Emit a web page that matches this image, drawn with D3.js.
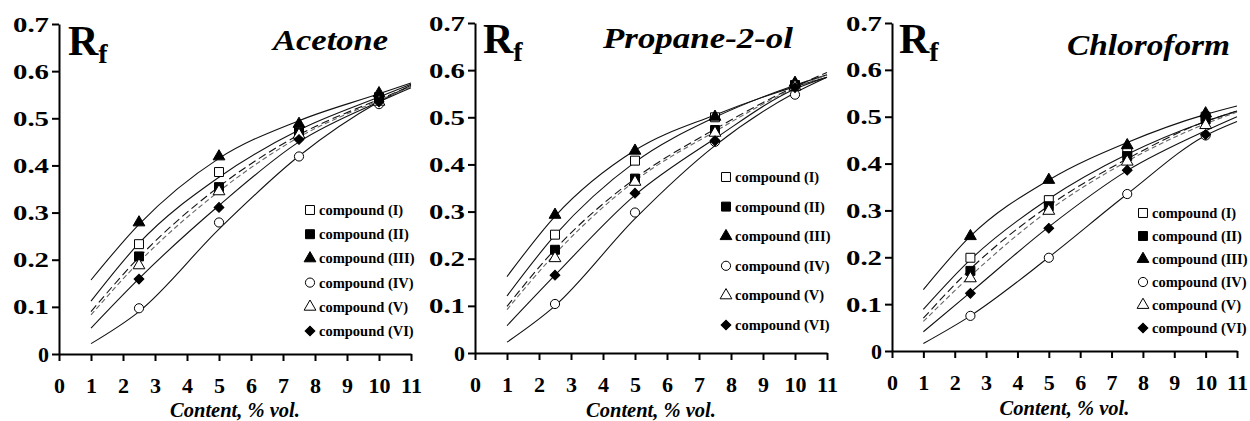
<!DOCTYPE html>
<html>
<head>
<meta charset="utf-8">
<script src="https://cdn.jsdelivr.net/npm/d3@7"></script>
<style>
  body { margin: 0; background: #fff; }
  svg { display: block; font-family: 'Liberation Serif', 'Times New Roman', serif; }
</style>
</head>
<body>
<svg></svg>
<script>
// x positions of measured points and of the drawn trend curves
const contentX = [2.5, 5, 7.5, 10]
const curveX = [1, 2.5, 5, 7.5, 10, 11]
const compounds = ['compound (I)', 'compound (II)', 'compound (III)', 'compound (IV)', 'compound (V)', 'compound (VI)']
const xTicks = [0, 1, 2, 3, 4, 5, 6, 7, 8, 9, 10, 11]
const yTicks = [0, 0.1, 0.2, 0.3, 0.4, 0.5, 0.6, 0.7]
const solvents = ['Acetone', 'Propane-2-ol', 'Chloroform']

// Rf values, one row per compound (I..VI)
const acetonePoints = [
  [0.233, 0.386, 0.475, 0.545],
  [0.207, 0.354, 0.470, 0.540],
  [0.279, 0.419, 0.488, 0.553],
  [0.097, 0.279, 0.419, 0.530],
  [0.188, 0.345, 0.465, 0.535],
  [0.159, 0.311, 0.455, 0.535]
]
const acetoneCurves = [
  [0.112, 0.235, 0.375, 0.475, 0.545, 0.572],
  [0.090, 0.205, 0.355, 0.465, 0.540, 0.568],
  [0.157, 0.275, 0.415, 0.495, 0.552, 0.575],
  [0.022, 0.090, 0.265, 0.420, 0.535, 0.570],
  [0.083, 0.195, 0.345, 0.460, 0.538, 0.567],
  [0.055, 0.160, 0.315, 0.450, 0.535, 0.565]
]
const propanolPoints = [
  [0.251, 0.408, 0.500, 0.568],
  [0.219, 0.370, 0.473, 0.568],
  [0.293, 0.429, 0.501, 0.573],
  [0.104, 0.298, 0.448, 0.548],
  [0.201, 0.363, 0.467, 0.565],
  [0.165, 0.339, 0.450, 0.563]
]
const propanolCurves = [
  [0.121, 0.250, 0.405, 0.500, 0.568, 0.590],
  [0.099, 0.220, 0.370, 0.475, 0.565, 0.595],
  [0.162, 0.290, 0.430, 0.505, 0.565, 0.585],
  [0.023, 0.100, 0.285, 0.440, 0.552, 0.585],
  [0.092, 0.210, 0.365, 0.470, 0.562, 0.590],
  [0.058, 0.165, 0.335, 0.455, 0.560, 0.585]
]
const chloroformPoints = [
  [0.199, 0.322, 0.425, 0.500],
  [0.171, 0.309, 0.416, 0.494],
  [0.245, 0.365, 0.439, 0.507],
  [0.075, 0.199, 0.335, 0.460],
  [0.155, 0.299, 0.404, 0.482],
  [0.123, 0.262, 0.386, 0.462]
]
const chloroformCurves = [
  [0.089, 0.195, 0.325, 0.420, 0.490, 0.512],
  [0.070, 0.175, 0.310, 0.410, 0.490, 0.512],
  [0.131, 0.245, 0.365, 0.445, 0.505, 0.523],
  [0.016, 0.075, 0.200, 0.335, 0.460, 0.490],
  [0.063, 0.160, 0.300, 0.405, 0.485, 0.510],
  [0.041, 0.125, 0.265, 0.385, 0.470, 0.500]
]

const width = 1250
const height = 421
let svg = d3.select('svg').attr('width', width).attr('height', height)

// placement of each panel
const panels = [
  { title: solvents[0], points: acetonePoints, curves: acetoneCurves,
    x0: 59, x1: 411, y0: 354, y1: 24,
    titleX: 273, titleY: 50, titleLen: 115, rfX: 68, rfY: 55,
    legX: 310, legY: 210, legStep: 24.2 },
  { title: solvents[1], points: propanolPoints, curves: propanolCurves,
    x0: 475, x1: 827, y0: 353, y1: 23,
    titleX: 603, titleY: 48, titleLen: 190, rfX: 483, rfY: 53,
    legX: 726, legY: 177, legStep: 29.6 },
  { title: solvents[2], points: chloroformPoints, curves: chloroformCurves,
    x0: 892, x1: 1237, y0: 351, y1: 23,
    titleX: 1067, titleY: 55, titleLen: 163, rfX: 899, rfY: 53,
    legX: 1143, legY: 213, legStep: 23 }
]

// marker styles for compounds I..VI
const markers = [
  { type: d3.symbolSquare, size: 80, fill: '#fff', rotate: 0 },
  { type: d3.symbolSquare, size: 80, fill: '#000', rotate: 0 },
  { type: d3.symbolTriangle, size: 60, fill: '#000', rotate: 0 },
  { type: d3.symbolCircle, size: 66, fill: '#fff', rotate: 0 },
  { type: d3.symbolTriangle, size: 60, fill: '#fff', rotate: 0 },
  { type: d3.symbolSquare, size: 48, fill: '#000', rotate: 45 }
]
// line styles for trend curves
const lineStyles = [
  { color: '#111', dash: null },
  { color: '#111', dash: '8,4' },
  { color: '#111', dash: null },
  { color: '#111', dash: null },
  { color: '#666', dash: '5,3' },
  { color: '#111', dash: null }
]

function drawMarker (g, x, y, i) {
  const m = markers[i]
  g.append('path')
    .attr('d', d3.symbol().type(m.type).size(m.size)())
    .attr('transform', `translate(${x},${y}) rotate(${m.rotate})`)
    .attr('fill', m.fill)
    .attr('stroke', '#000')
    .attr('stroke-width', 1)
}

function drawPanel (p) {
  const g = svg.append('g')
  const scX = d3.scaleLinear().domain([0, 11]).range([p.x0, p.x1])
  const scY = d3.scaleLinear().domain([0, 0.7]).range([p.y0, p.y1])

  // оси
  const axX = g.append('g')
    .attr('transform', `translate(0, ${p.y0})`)
    .call(d3.axisBottom(scX).tickValues(xTicks).tickFormat(d3.format('d'))
      .tickSize(7).tickSizeOuter(0).tickPadding(16.5))
  const axY = g.append('g')
    .attr('transform', `translate(${p.x0}, 0)`)
    .call(d3.axisLeft(scY).tickValues(yTicks).tickFormat(d => d === 0 ? '0' : d3.format('.1f')(d))
      .tickSize(7).tickSizeOuter(0).tickPadding(3))

  ;[axX, axY].forEach(ax => {
    ax.selectAll('path, line').attr('stroke', '#000').attr('stroke-width', 2)
    ax.selectAll('text')
      .attr('fill', '#000')
      .style('font-family', "'Liberation Serif', serif")
      .style('font-weight', 'bold')
      .style('font-size', '22px')
  })
  axY.selectAll('text')
    .filter(d => d !== 0)
    .attr('textLength', 36)
    .attr('lengthAdjust', 'spacingAndGlyphs')

  // trend curves
  const line = d3.line()
    .x(d => scX(d[0]))
    .y(d => scY(d[1]))
    .curve(d3.curveMonotoneX)
  p.curves.forEach((row, i) => {
    g.append('path')
      .datum(curveX.map((x, k) => [x, row[k]]))
      .attr('d', line)
      .attr('fill', 'none')
      .attr('stroke', lineStyles[i].color)
      .attr('stroke-width', 1.1)
      .attr('stroke-dasharray', lineStyles[i].dash)
  })

  // measured points
  p.points.forEach((row, i) => {
    row.forEach((v, k) => drawMarker(g, scX(contentX[k]), scY(v), i))
  })

  // legend
  compounds.forEach((name, i) => {
    const y = p.legY + i * p.legStep
    drawMarker(g, p.legX, y, i)
    g.append('text')
      .attr('x', p.legX + 9)
      .attr('y', y + 5)
      .style('font-size', '14.5px')
      .style('font-weight', 'bold')
      .text(name)
  })

  // Rf label
  const rf = g.append('text')
    .attr('x', p.rfX)
    .attr('y', p.rfY)
    .style('font-weight', 'bold')
    .style('font-size', '42px')
  rf.append('tspan').text('R')
  rf.append('tspan').attr('dy', 8).style('font-size', '28px').text('f')

  // solvent title
  g.append('text')
    .attr('x', p.titleX)
    .attr('y', p.titleY)
    .attr('textLength', p.titleLen)
    .attr('lengthAdjust', 'spacingAndGlyphs')
    .style('font-weight', 'bold')
    .style('font-style', 'italic')
    .style('font-size', '30px')
    .text(p.title)

  // x axis title
  g.append('text')
    .attr('x', (p.x0 + p.x1) / 2)
    .attr('y', Math.min(p.y0 + 64, 416.5))
    .attr('text-anchor', 'middle')
    .style('font-weight', 'bold')
    .style('font-style', 'italic')
    .style('font-size', '20.5px')
    .text('Content, % vol.')
}

document.addEventListener('DOMContentLoaded', function () {
  svg.append('rect').attr('width', width).attr('height', height).attr('fill', '#fff')
  panels.forEach(drawPanel)
})
</script>
</body>
</html>
